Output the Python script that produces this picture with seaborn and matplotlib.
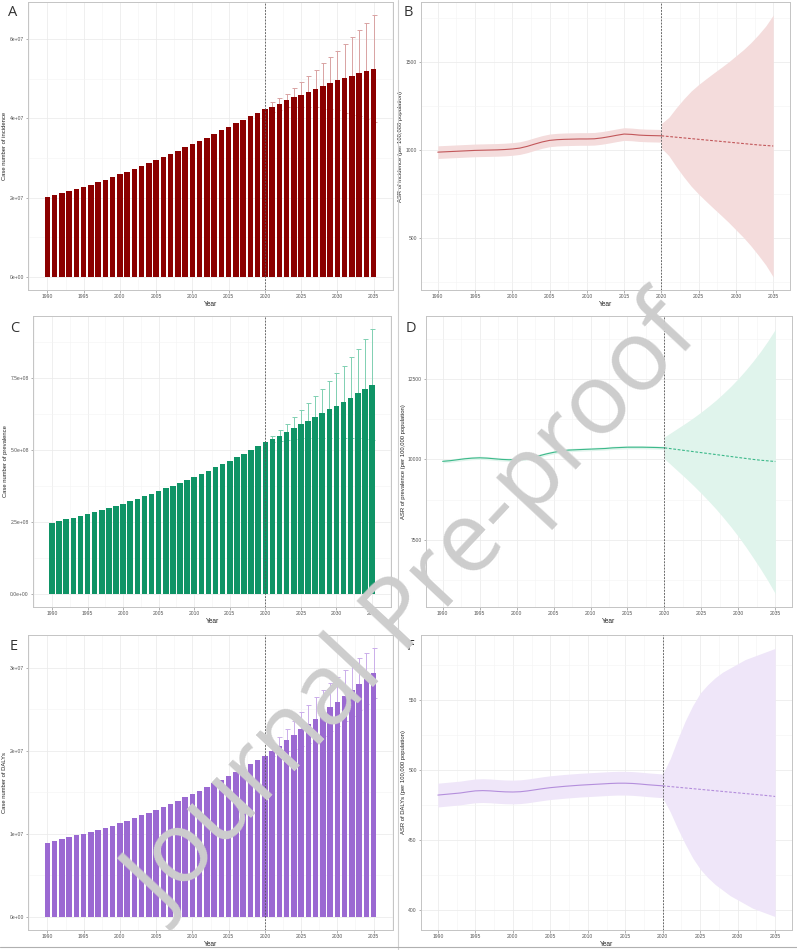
import numpy as np
import pandas as pd
import matplotlib

matplotlib.use("Agg")
import matplotlib.pyplot as plt
import seaborn as sns
from matplotlib.ticker import FixedLocator, MultipleLocator
from matplotlib.lines import Line2D

sns.set_style("white")
plt.rcParams["font.family"] = ["Liberation Sans", "DejaVu Sans"]

# ---- data ---------------------------------------------------------------
YEARS = list(range(1990, 2036))
OBS_YEARS = list(range(1990, 2021))
PRED_YEARS = list(range(2020, 2036))
CI_YEARS = list(range(2021, 2036))
X_TICKS = [1990, 1995, 2000, 2005, 2010, 2015, 2020, 2025, 2030, 2035]

# case numbers, millions
INCIDENCE_CASES = [20.2, 20.8, 21.3, 21.8, 22.3, 22.8, 23.2, 23.9, 24.5, 25.1,
                   25.9, 26.5, 27.2, 27.9, 28.7, 29.5, 30.3, 31.1, 31.9, 32.7,
                   33.5, 34.3, 35.1, 36.0, 37.0, 37.9, 38.8, 39.7, 40.5, 41.4,
                   42.4, 42.9, 43.7, 44.6, 45.3, 46.0, 46.8, 47.5, 48.2, 49.0,
                   49.6, 50.2, 50.8, 51.5, 52.0, 52.6]
INCIDENCE_UPPER = [44.1, 45.2, 46.3, 47.8, 49.2, 50.7, 52.2, 53.9, 55.5, 57.1,
                   58.9, 60.6, 62.4, 64.2, 66.1]
INCIDENCE_LOWER = [41.7, 42.2, 42.9, 42.8, 42.8, 42.9, 42.8, 42.5, 42.5, 42.1,
                   41.5, 41.0, 40.6, 39.8, 39.1]

PREVALENCE_CASES = [245.6, 251.0, 257.8, 264.5, 270.3, 275.9, 282.7, 289.4, 296.2, 304.0,
                    313.0, 321.0, 329.5, 338.0, 347.0, 356.0, 365.5, 375.0, 385.0, 395.0,
                    405.5, 416.0, 427.0, 438.5, 450.0, 462.0, 474.0, 486.5, 499.0, 512.0,
                    525.0, 537.0, 549.0, 562.0, 575.0, 588.0, 601.0, 614.0, 627.0, 640.0,
                    653.0, 667.0, 681.0, 695.0, 710.0, 725.0]
PREVALENCE_UPPER = [548, 568, 590, 613, 637, 661, 686, 712, 738, 765, 792, 821, 851, 884, 918]
PREVALENCE_LOWER = [526, 530, 534, 537, 539, 541, 542, 542, 542, 541, 542, 541, 539, 536, 532]

DALY_CASES = [8.92, 9.12, 9.36, 9.55, 9.80, 10.00, 10.24, 10.44, 10.69, 10.93,
              11.24, 11.53, 11.85, 12.18, 12.52, 12.87, 13.23, 13.60, 13.98, 14.37,
              14.77, 15.18, 15.61, 16.05, 16.50, 16.96, 17.43, 17.91, 18.40, 18.90,
              19.40, 20.00, 20.60, 21.25, 21.90, 22.55, 23.20, 23.85, 24.50, 25.20,
              25.90, 26.60, 27.30, 28.00, 28.65, 29.30]
DALY_UPPER = [20.6, 21.6, 22.6, 23.6, 24.6, 25.5, 26.4, 27.3, 28.1, 28.9, 29.7, 30.4, 31.1, 31.7, 32.3]
DALY_LOWER = [19.4, 19.6, 19.9, 20.2, 20.5, 20.9, 21.3, 21.7, 22.3, 22.9, 23.5, 24.2, 24.9, 25.6, 26.3]

# age-standardised rates, per 100,000
ASR_INC_OBS = [987, 989, 991, 993, 995, 997, 998, 999, 1000, 1002,
               1005, 1010, 1020, 1033, 1045, 1054, 1058, 1060, 1061, 1062,
               1062, 1063, 1068, 1075, 1083, 1090, 1088, 1084, 1082, 1081, 1080]
ASR_INC_OBS_LO = [951, 953, 955, 957, 959, 961, 962, 963, 964, 966,
                  969, 974, 984, 997, 1009, 1018, 1022, 1024, 1025, 1026,
                  1026, 1027, 1032, 1039, 1047, 1054, 1052, 1048, 1046, 1045, 1044]
ASR_INC_OBS_HI = [1023, 1025, 1027, 1029, 1031, 1033, 1034, 1035, 1036, 1038,
                  1041, 1046, 1056, 1069, 1081, 1090, 1094, 1096, 1097, 1098,
                  1098, 1099, 1104, 1111, 1119, 1126, 1124, 1120, 1118, 1117, 1116]
ASR_INC_PRED = [1080, 1076, 1072, 1068, 1064, 1060, 1056, 1052, 1048, 1044, 1040, 1036, 1032, 1028, 1025, 1022]
ASR_INC_PRED_HI = [1150, 1185, 1240, 1290, 1335, 1372, 1405, 1437, 1468, 1500, 1535, 1570, 1610, 1655, 1705, 1767]
ASR_INC_PRED_LO = [1010, 967, 904, 846, 793, 748, 707, 667, 628, 588, 545, 502, 454, 401, 345, 277]

ASR_PREV_OBS = [9940, 9960, 9990, 10020, 10040, 10050, 10040, 10020, 10000, 9990,
                10000, 10020, 10060, 10110, 10170, 10220, 10260, 10290, 10300, 10310,
                10320, 10330, 10340, 10360, 10370, 10380, 10380, 10380, 10375, 10370, 10360]
ASR_PREV_OBS_LO = [9890, 9910, 9940, 9970, 9990, 10000, 9990, 9970, 9950, 9940,
                   9950, 9970, 10010, 10060, 10120, 10170, 10210, 10240, 10250, 10260,
                   10270, 10280, 10290, 10310, 10320, 10330, 10330, 10330, 10325, 10320, 10310]
ASR_PREV_OBS_HI = [9990, 10010, 10040, 10070, 10090, 10100, 10090, 10070, 10050, 10040,
                   10050, 10070, 10110, 10160, 10220, 10270, 10310, 10340, 10350, 10360,
                   10370, 10380, 10390, 10410, 10420, 10430, 10430, 10430, 10425, 10420, 10410]
ASR_PREV_PRED = [10360, 10330, 10300, 10270, 10240, 10210, 10180, 10150, 10120, 10090,
                 10060, 10030, 10000, 9975, 9955, 9935]
ASR_PREV_PRED_HI = [10700, 10850, 11000, 11150, 11310, 11480, 11660, 11850, 12060, 12280,
                    12520, 12780, 13060, 13360, 13690, 14050]
ASR_PREV_PRED_LO = [10020, 9810, 9600, 9390, 9170, 8940, 8700, 8450, 8180, 7900,
                    7600, 7280, 6940, 6590, 6220, 5820]

ASR_DALY_OBS = [482.0, 482.5, 483.0, 483.5, 484.3, 485.0, 485.2, 485.0, 484.6, 484.3,
                484.2, 484.4, 485.0, 485.8, 486.6, 487.3, 487.8, 488.3, 488.7, 489.1,
                489.4, 489.7, 490.0, 490.3, 490.5, 490.5, 490.3, 489.9, 489.4, 489.0, 488.6]
ASR_DALY_OBS_LO = [473.5, 474.0, 474.5, 475.0, 475.8, 476.5, 476.7, 476.5, 476.1, 475.8,
                   475.7, 475.9, 476.5, 477.3, 478.1, 478.8, 479.3, 479.8, 480.2, 480.6,
                   480.9, 481.2, 481.5, 481.8, 482.0, 482.0, 481.8, 481.4, 480.9, 480.5, 480.1]
ASR_DALY_OBS_HI = [490.5, 491.0, 491.5, 492.0, 492.8, 493.5, 493.7, 493.5, 493.1, 492.8,
                   492.7, 492.9, 493.5, 494.3, 495.1, 495.8, 496.3, 496.8, 497.2, 497.6,
                   497.9, 498.2, 498.5, 498.8, 499.0, 499.0, 498.8, 498.4, 497.9, 497.5, 497.1]
ASR_DALY_PRED = [488.6, 488.1, 487.6, 487.1, 486.6, 486.1, 485.6, 485.1, 484.6, 484.1,
                 483.6, 483.1, 482.6, 482.1, 481.6, 481.0]
ASR_DALY_PRED_HI = [497, 508, 522, 535, 546, 555, 561, 566, 570, 573, 576, 579, 581, 583, 585, 587]
ASR_DALY_PRED_LO = [480, 470, 458, 447, 437, 429, 423, 418, 414, 410, 407, 404, 401, 399, 397, 395]

A_TICKS = [0, 2e7, 4e7, 6e7]
A_LABELS = ["0e+00", "2e+07", "4e+07", "6e+07"]
B_TICKS = [500, 1000, 1500]
B_LABELS = ["500", "1000", "1500"]
C_TICKS = [0, 2.5e8, 5.0e8, 7.5e8]
C_LABELS = ["0.0e+00", "2.5e+08", "5.0e+08", "7.5e+08"]
D_TICKS = [7500, 10000, 12500]
D_LABELS = ["7500", "10000", "12500"]
E_TICKS = [0, 1e7, 2e7, 3e7]
E_LABELS = ["0e+00", "1e+07", "2e+07", "3e+07"]
F_TICKS = [400, 450, 500, 550]
F_LABELS = ["400", "450", "500", "550"]

GRID = "#ebebeb"
BORDER = "#c4c4c4"


def style_axes(ax, yticks, ylabels, ylabel):
    ax.xaxis.set_major_locator(FixedLocator(X_TICKS))
    ax.set_xticklabels([str(y) for y in X_TICKS])
    ax.xaxis.set_minor_locator(MultipleLocator(2.5))
    ax.yaxis.set_major_locator(FixedLocator(yticks))
    ax.set_yticklabels(ylabels)
    step = yticks[1] - yticks[0]
    ax.yaxis.set_minor_locator(MultipleLocator(step / 2))
    ax.grid(True, which="major", color=GRID, linewidth=0.55)
    ax.grid(True, which="minor", color="#f3f3f3", linewidth=0.4)
    ax.set_axisbelow(True)
    for s in ax.spines.values():
        s.set_color(BORDER)
        s.set_linewidth(0.7)
    ax.tick_params(which="major", length=1.8, width=0.4, color="#777777",
                   labelsize=3.6, labelcolor="#555555", pad=1.2,
                   bottom=True, left=True)
    ax.tick_params(which="minor", length=0)
    ax.set_xlabel("Year", fontsize=4.8, color="#222222", labelpad=1.5)
    ax.set_ylabel(ylabel, fontsize=4.2, color="#222222", labelpad=1.5)
    ax.axvline(2020, color="#555555", linewidth=0.6, linestyle=(0, (2.2, 1.6)), zorder=6)


def bar_panel(ax, cases, lower, upper, color, err_color, yticks, ylabels, ylabel):
    df = pd.DataFrame({"year": YEARS, "cases": np.array(cases) * 1e6})
    sns.barplot(data=df, x="year", y="cases", native_scale=True, color=color,
                saturation=1, width=0.78, linewidth=0, errorbar=None, ax=ax, zorder=3)
    mean = np.array(cases[-len(CI_YEARS):]) * 1e6
    lo = np.array(lower) * 1e6
    hi = np.array(upper) * 1e6
    ax.errorbar(CI_YEARS, mean, yerr=[mean - lo, hi - mean], fmt="none",
                ecolor=err_color, elinewidth=0.7, capsize=1.8, capthick=0.7, zorder=2)
    ax.use_sticky_edges = False
    ax.margins(x=0.05, y=0.05)
    ax.autoscale_view()
    style_axes(ax, yticks, ylabels, ylabel)


def line_panel(ax, obs, obs_lo, obs_hi, pred, pred_lo, pred_hi,
               line_color, band_color, yticks, ylabels, ylabel):
    ax.fill_between(OBS_YEARS, obs_lo, obs_hi, color=band_color, linewidth=0, zorder=2)
    ax.fill_between(PRED_YEARS, pred_lo, pred_hi, color=band_color, linewidth=0, zorder=2)
    sns.lineplot(x=OBS_YEARS, y=obs, color=line_color, linewidth=0.8, ax=ax, zorder=4)
    sns.lineplot(x=PRED_YEARS, y=pred, color=line_color, linewidth=0.8,
                 linestyle=(0, (2.5, 1.5)), ax=ax, zorder=4)
    ax.margins(x=0.05, y=0.05)
    style_axes(ax, yticks, ylabels, ylabel)


fig = plt.figure(figsize=(7.97, 9.5), dpi=100)
W, H = 797.0, 950.0


def add_ax(left, top, right, bottom):
    return fig.add_axes([left / W, 1 - bottom / H, (right - left) / W, (bottom - top) / H])


ax_a = add_ax(28, 2, 393, 290)
ax_b = add_ax(421, 2, 790, 290)
ax_c = add_ax(33, 316, 391, 607)
ax_d = add_ax(426, 316, 792, 607)
ax_e = add_ax(28, 635, 393, 930)
ax_f = add_ax(421, 635, 792, 930)

bar_panel(ax_a, INCIDENCE_CASES, INCIDENCE_LOWER, INCIDENCE_UPPER, "#8B0000", "#D9A3A3",
          A_TICKS, A_LABELS, "Case number of incidence")
line_panel(ax_b, ASR_INC_OBS, ASR_INC_OBS_LO, ASR_INC_OBS_HI,
           ASR_INC_PRED, ASR_INC_PRED_LO, ASR_INC_PRED_HI, "#C2575A", "#F4DCDC",
           B_TICKS, B_LABELS, "ASR of incidence (per 100,000 population)")
bar_panel(ax_c, PREVALENCE_CASES, PREVALENCE_LOWER, PREVALENCE_UPPER, "#0F9466", "#80D0B2",
          C_TICKS, C_LABELS, "Case number of prevalence")
line_panel(ax_d, ASR_PREV_OBS, ASR_PREV_OBS_LO, ASR_PREV_OBS_HI,
           ASR_PREV_PRED, ASR_PREV_PRED_LO, ASR_PREV_PRED_HI, "#3CB98A", "#E0F4EC",
           D_TICKS, D_LABELS, "ASR of prevalence (per 100,000 population)")
bar_panel(ax_e, DALY_CASES, DALY_LOWER, DALY_UPPER, "#9B69D2", "#CBAEEA",
          E_TICKS, E_LABELS, "Case number of DALYs")
line_panel(ax_f, ASR_DALY_OBS, ASR_DALY_OBS_LO, ASR_DALY_OBS_HI,
           ASR_DALY_PRED, ASR_DALY_PRED_LO, ASR_DALY_PRED_HI, "#B48EDC", "#EFE6F9",
           F_TICKS, F_LABELS, "ASR of DALYs (per 100,000 population)")

# panel letters
for letter, (px, py) in {"A": (13, 12), "B": (408, 13), "C": (15, 328),
                         "D": (411, 328), "E": (14, 647), "F": (410, 647)}.items():
    fig.text(px / W, 1 - py / H, letter, fontsize=10.5, color="#333333",
             ha="center", va="center", family=["Open Sans", "DejaVu Sans"])

# frames of the combined figure
fig.add_artist(Line2D([397.5 / W, 397.5 / W], [0.0, 1.0], color="#d0d0d0", linewidth=0.8))
fig.add_artist(Line2D([0.0, 1.0], [1 - 947 / H, 1 - 947 / H], color="#b0b0b0", linewidth=0.8))

# watermark
fig.text(416 / W, 1 - 612 / H, "Journal Pre-proof", fontsize=71, color="#cdcdcd",
         rotation=47, rotation_mode="anchor", ha="center", va="center",
         family=["Open Sans", "DejaVu Sans"], zorder=20)

fig.savefig("out.png", dpi=100)
